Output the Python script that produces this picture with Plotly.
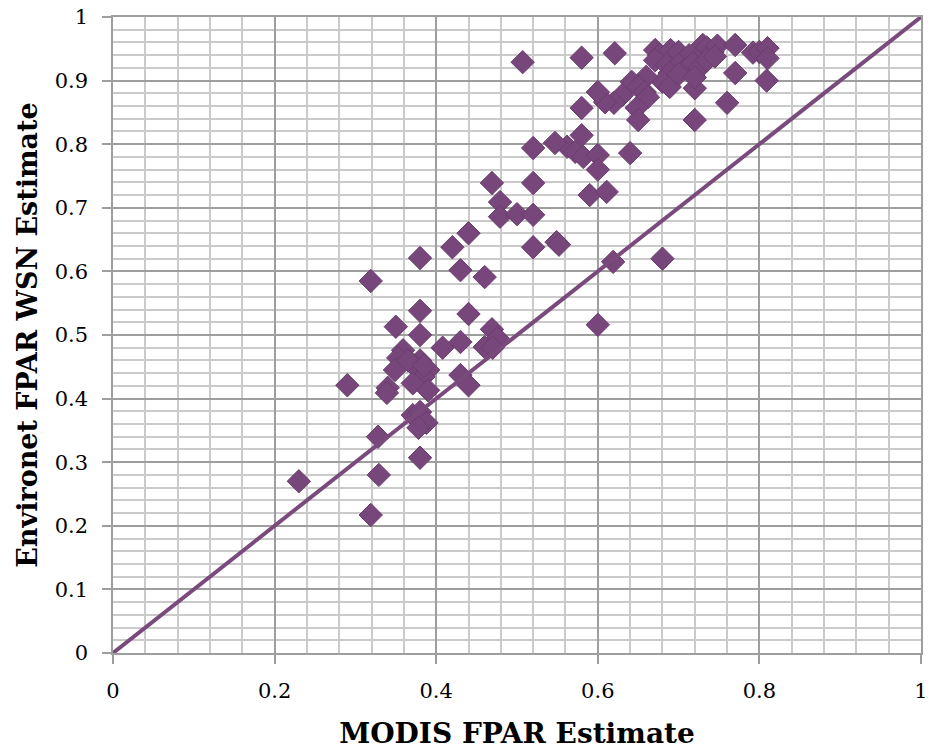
import plotly.graph_objects as go

modis = [
    0.507, 0.58, 0.621, 0.671, 0.676, 0.69, 0.70, 0.713, 0.73, 0.735, 0.742, 0.748, 0.77, 0.792, 0.80, 0.81, 0.81,
    0.671, 0.685, 0.70, 0.71, 0.718, 0.726, 0.735, 0.745, 0.77, 0.809, 0.689, 0.68, 0.689, 0.66, 0.642, 0.65,
    0.658, 0.662, 0.63, 0.62, 0.609, 0.6, 0.58, 0.72, 0.76, 0.72, 0.648, 0.65, 0.70, 0.72,
    0.58, 0.562, 0.547, 0.52, 0.572, 0.582, 0.6, 0.6, 0.64, 0.59, 0.611, 0.469, 0.52,
    0.479, 0.479, 0.5, 0.52, 0.44, 0.42, 0.52, 0.549, 0.552, 0.38, 0.43, 0.46, 0.619, 0.68, 0.319,
    0.38, 0.44, 0.35, 0.38, 0.469, 0.476, 0.6,
    0.408, 0.43, 0.46, 0.47, 0.359, 0.353, 0.38, 0.372, 0.349, 0.39, 0.384, 0.371, 0.34, 0.339, 0.39, 0.29,
    0.43, 0.44, 0.365, 0.385,
    0.371, 0.38, 0.388, 0.378, 0.328, 0.38, 0.329, 0.23, 0.319,
]
environet = [
    0.929, 0.936, 0.943, 0.948, 0.94, 0.948, 0.945, 0.94, 0.956, 0.952, 0.945, 0.955, 0.956, 0.944, 0.945, 0.951, 0.935,
    0.932, 0.925, 0.925, 0.92, 0.928, 0.92, 0.932, 0.938, 0.912, 0.9, 0.912, 0.898, 0.89, 0.906, 0.898, 0.89,
    0.882, 0.874, 0.877, 0.865, 0.866, 0.882, 0.857, 0.888, 0.865, 0.838, 0.857, 0.838, 0.91, 0.905,
    0.814, 0.796, 0.802, 0.794, 0.788, 0.78, 0.783, 0.76, 0.786, 0.72, 0.725, 0.739, 0.739,
    0.709, 0.686, 0.69, 0.689, 0.66, 0.638, 0.638, 0.646, 0.642, 0.621, 0.602, 0.591, 0.615, 0.62, 0.585,
    0.538, 0.533, 0.513, 0.5, 0.509, 0.495, 0.516,
    0.48, 0.489, 0.481, 0.48, 0.476, 0.464, 0.46, 0.453, 0.445, 0.445, 0.434, 0.424, 0.417, 0.409, 0.413, 0.421,
    0.437, 0.421, 0.46, 0.452,
    0.374, 0.379, 0.362, 0.354, 0.34, 0.307, 0.28, 0.27, 0.217,
]
line_x = [0, 1]
line_y = [0, 1]

x_tickvals = [0, 0.2, 0.4, 0.6, 0.8, 1]
x_ticktext = ["0", "0.2", "0.4", "0.6", "0.8", "1"]
y_tickvals = [0, 0.1, 0.2, 0.3, 0.4, 0.5, 0.6, 0.7, 0.8, 0.9, 1]
y_ticktext = ["0", "0.1", "0.2", "0.3", "0.4", "0.5", "0.6", "0.7", "0.8", "0.9", "1"]

purple = "#77467A"

fig = go.Figure()
fig.add_trace(go.Scatter(
    x=modis, y=environet, mode="markers",
    marker=dict(symbol="diamond", size=18, color=purple,
                line=dict(color="#6B3D6E", width=1)),
    showlegend=False,
))
fig.add_trace(go.Scatter(
    x=line_x, y=line_y, mode="lines",
    line=dict(color="#7A4A7D", width=4),
    showlegend=False,
))

fig.update_layout(
    width=938, height=750,
    margin=dict(l=105, r=25, t=9, b=105, autoexpand=False),
    plot_bgcolor="white", paper_bgcolor="white",
    font=dict(family="DejaVu Serif", color="black", size=21),
)
fig.update_xaxes(
    range=[0, 1], automargin=False,
    tickmode="array", tickvals=x_tickvals, ticktext=x_ticktext,
    showgrid=True, gridcolor="#9E9E9E", gridwidth=1.5,
    minor=dict(dtick=0.04, tick0=0, showgrid=True, gridcolor="#CACACA", gridwidth=1.5),
    ticks="outside", ticklen=9, tickcolor="#9E9E9E", tickwidth=1.5,
    ticklabelstandoff=9, ticklabeloverflow="allow",
    showline=True, linecolor="#9E9E9E", linewidth=1.5, mirror=True,
    zeroline=False,
    tickfont=dict(family="DejaVu Serif", size=21, color="black"),
    title=dict(text="<b>MODIS FPAR Estimate</b>", font=dict(family="DejaVu Serif", size=28, color="black"),
               standoff=21),
)
fig.update_yaxes(
    range=[0, 1], automargin=False,
    tickmode="array", tickvals=y_tickvals, ticktext=y_ticktext,
    showgrid=True, gridcolor="#9E9E9E", gridwidth=1.5,
    minor=dict(dtick=0.02, tick0=0, showgrid=True, gridcolor="#CACACA", gridwidth=1.5),
    ticks="outside", ticklen=9, tickcolor="#9E9E9E", tickwidth=1.5,
    ticklabelstandoff=10, ticklabeloverflow="allow",
    showline=True, linecolor="#9E9E9E", linewidth=1.5, mirror=True,
    zeroline=False,
    tickfont=dict(family="DejaVu Serif", size=21, color="black"),
    title=dict(text="<b>Environet FPAR WSN Estimate</b>", font=dict(family="DejaVu Serif", size=27, color="black"),
               standoff=9),
)

fig.write_html("out.html")
